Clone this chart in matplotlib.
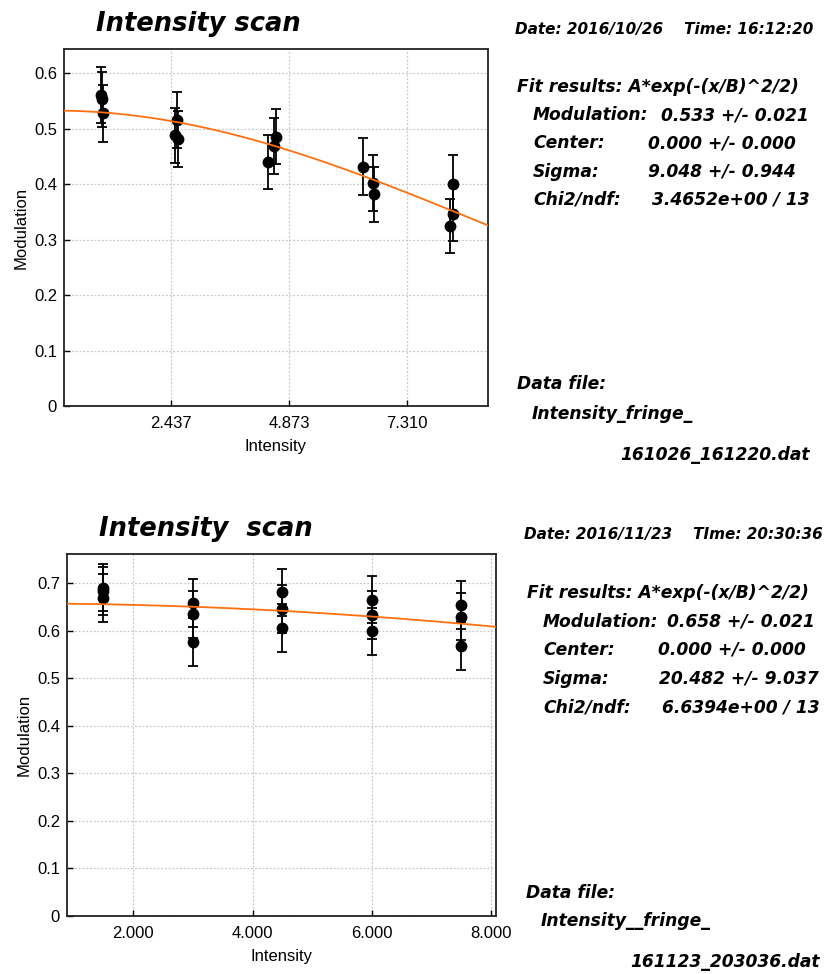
import numpy as np
import matplotlib
matplotlib.use("Agg")
import matplotlib.pyplot as plt

W, H = 832, 974

# ---- top scan (2016/10/26) ----
x1 = [0.985, 1.00, 1.03, 2.555, 2.52, 2.575, 4.43, 4.56, 4.60, 6.40, 6.60, 6.62, 8.19, 8.26, 8.26]
y1 = [0.561, 0.553, 0.528, 0.516, 0.488, 0.482, 0.440, 0.469, 0.486, 0.432, 0.402, 0.382, 0.325, 0.347, 0.401]
e1 = [0.050, 0.050, 0.051, 0.050, 0.050, 0.050, 0.049, 0.050, 0.050, 0.051, 0.050, 0.050, 0.049, 0.050, 0.051]
fit1 = (0.533, 9.048)
xt1 = [2.437, 4.873, 7.310]
xt1_lab = ["2.437", "4.873", "7.310"]

# ---- bottom scan (2016/11/23) ----
x2 = [1.5, 1.5, 1.5, 3.0, 3.0, 3.0, 4.5, 4.5, 4.5, 6.0, 6.0, 6.0, 7.5, 7.5, 7.5]
y2 = [0.691, 0.684, 0.669, 0.659, 0.635, 0.577, 0.681, 0.646, 0.606, 0.666, 0.634, 0.599, 0.655, 0.630, 0.568]
e2 = [0.050, 0.050, 0.050, 0.050, 0.050, 0.050, 0.050, 0.050, 0.050, 0.050, 0.050, 0.050, 0.050, 0.050, 0.050]
fit2 = (0.658, 20.482)
xt2 = [2.0, 4.0, 6.0, 8.0]
xt2_lab = ["2.000", "4.000", "6.000", "8.000"]

yt = [0, 0.1, 0.2, 0.3, 0.4, 0.5, 0.6, 0.7]
yt_lab = ["0", "0.1", "0.2", "0.3", "0.4", "0.5", "0.6", "0.7"]

fig = plt.figure(figsize=(W / 100, H / 100), dpi=100)

def px_axes(l, t, r, b):
    return fig.add_axes([l / W, 1 - b / H, (r - l) / W, (b - t) / H])

def txt(x, y, s, size=12.3):
    fig.text(x / W, 1 - y / H, s, fontsize=size, fontweight="bold", fontstyle="italic",
             family="DejaVu Sans", va="baseline", ha="left")

def panel(ax, x, y, e, fit, xlim, ylim, xt, xtl):
    ax.errorbar(x, y, yerr=e, fmt="o", color="black", ms=7.5, elinewidth=1.3,
                capsize=3.5, capthick=1.3, zorder=3)
    xx = np.linspace(xlim[0], xlim[1], 200)
    ax.plot(xx, fit[0] * np.exp(-(xx / fit[1]) ** 2 / 2), color="#ff6f0f", lw=1.3, zorder=4)
    ax.set_xlim(*xlim)
    ax.set_ylim(*ylim)
    ax.set_xticks(xt)
    ax.set_xticklabels(xtl)
    yy = [v for v in yt if v <= ylim[1]]
    ax.set_yticks(yy)
    ax.set_yticklabels(yt_lab[:len(yy)])
    ax.grid(True, color="#c8c8c8", linestyle=(0, (1.5, 1.5)), linewidth=0.9)
    ax.tick_params(direction="in", length=4, width=1, labelsize=12, pad=5)
    ax.tick_params(axis="x", pad=7)
    for lab in ax.get_xticklabels() + ax.get_yticklabels():
        lab.set_family("Liberation Sans")
    for s in ax.spines.values():
        s.set_linewidth(1.3)
        s.set_color("#222222")
    ax.set_xlabel("Intensity", family="Liberation Sans", fontsize=12, labelpad=6)
    ax.set_ylabel("Modulation", family="Liberation Sans", fontsize=12, labelpad=4)

ax1 = px_axes(64, 49, 488, 406)
panel(ax1, x1, y1, e1, fit1, (0.226, 8.977), (0, 0.644), xt1, xt1_lab)
ax2 = px_axes(67, 554, 496, 916)
panel(ax2, x2, y2, e2, fit2, (0.888, 8.084), (0, 0.762), xt2, xt2_lab)

# top text block
txt(96, 31, "Intensity scan", size=18.5)
txt(515, 34, "Date: 2016/10/26    Time: 16:12:20", size=11)
txt(517, 91.5, "Fit results: A*exp(-(x/B)^2/2)")
txt(533, 120, "Modulation:")
txt(661, 120, "0.533 +/- 0.021")
txt(533, 148.5, "Center:")
txt(648, 148.5, "0.000 +/- 0.000")
txt(533, 177, "Sigma:")
txt(648, 177, "9.048 +/- 0.944")
txt(533, 205, "Chi2/ndf:")
txt(652, 205, "3.4652e+00 / 13")
txt(517, 389, "Data file:")
txt(532, 419, "Intensity_fringe_")
txt(620, 460, "161026_161220.dat")

# bottom text block
txt(99, 536, "Intensity  scan", size=18.5)
txt(524, 539, "Date: 2016/11/23    TIme: 20:30:36", size=11)
txt(527, 598, "Fit results: A*exp(-(x/B)^2/2)")
txt(543, 627, "Modulation:")
txt(667, 627, "0.658 +/- 0.021")
txt(543, 655, "Center:")
txt(658, 655, "0.000 +/- 0.000")
txt(543, 683.5, "Sigma:")
txt(659, 683.5, "20.482 +/- 9.037")
txt(543, 712, "Chi2/ndf:")
txt(662, 712, "6.6394e+00 / 13")
txt(526, 898, "Data file:")
txt(541, 926, "Intensity__fringe_")
txt(630, 967, "161123_203036.dat")

fig.savefig("out.png", dpi=100)
